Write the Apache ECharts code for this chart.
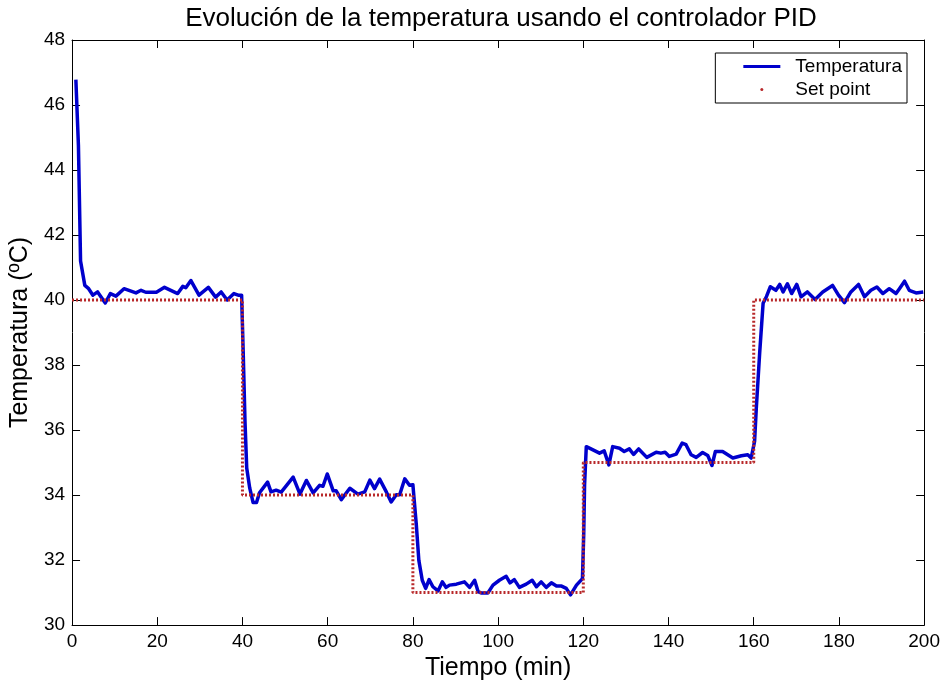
<!DOCTYPE html>
<html>
<head>
<meta charset="utf-8">
<title>Evolución de la temperatura usando el controlador PID</title>
<script src="https://cdn.jsdelivr.net/npm/echarts@6/dist/echarts.min.js"></script>
<style>
  html, body { margin: 0; padding: 0; background: #fff; }
  #chart { width: 943px; height: 686px; }
</style>
</head>
<body>
<div id="chart"></div>
<script>
var timeMin = [
  0.9, 1.5, 2.0, 3.0, 3.9, 4.9, 6.0, 7.8, 9.0, 10.3, 12.2, 15.0, 16.2, 17.3, 19.8,
  21.7, 23.3, 24.8, 26.0, 26.7, 27.9, 29.8, 32.0, 33.7, 35.0, 36.4, 38.0, 39.0, 39.8,
  40.2, 40.6, 41.0, 41.7, 42.5, 43.3, 44.0, 45.9, 46.7, 47.9, 49.1, 51.9, 53.5, 55.0,
  56.6, 58.1, 58.9, 59.9, 61.3, 62.0, 63.2, 65.2, 67.1, 68.7, 69.9, 71.0, 72.2, 73.8,
  74.9, 76.1, 76.9, 78.1, 79.2, 80.0, 80.8, 81.4, 82.2, 83.0, 83.8, 84.7, 85.9, 86.9,
  87.8, 88.6, 90.2, 92.1, 93.3, 94.5, 95.3, 96.0, 97.6, 98.8, 100.3, 101.9, 102.8,
  103.8, 105.0, 106.6, 108.0, 109.0, 110.1, 111.3, 112.5, 113.7, 114.9, 116.0, 117.0,
  118.4, 119.8, 120.1, 120.3, 120.7, 121.8, 123.8, 124.9, 126.0, 126.9, 128.5, 129.6,
  130.8, 131.8, 133.0, 134.9, 137.1, 138.2, 139.2, 140.2, 141.8, 143.2, 144.1, 145.3,
  146.5, 148.0, 149.2, 150.2, 151.0, 152.7, 155.1, 157.1, 158.6, 159.4, 160.2, 160.6,
  161.4, 162.2, 163.0, 163.9, 165.2, 166.1, 166.9, 167.9, 168.9, 170.1, 171.1, 172.6,
  174.4, 176.2, 178.5, 179.9, 181.3, 182.8, 184.6, 186.0, 187.5, 188.9, 190.3, 191.8,
  193.4, 194.2, 195.4, 196.5, 198.1, 199.8
];
var temperatura = [
  46.78, 44.76, 41.2, 40.45, 40.35, 40.15, 40.25, 39.91, 40.2, 40.12, 40.35, 40.22, 40.3, 40.24, 40.24,
  40.39, 40.29, 40.2, 40.42, 40.38, 40.6, 40.15, 40.39, 40.09, 40.25, 40.0, 40.2, 40.15, 40.15,
  38.27, 36.25, 34.83, 34.22, 33.77, 33.77, 34.07, 34.4, 34.1, 34.15, 34.09, 34.55, 34.03, 34.45,
  34.07, 34.3, 34.27, 34.65, 34.13, 34.13, 33.86, 34.21, 34.03, 34.1, 34.46, 34.2, 34.49, 34.09,
  33.79, 34.01, 34.01, 34.5, 34.3, 34.32, 33.1, 31.99, 31.38, 31.13, 31.4, 31.18, 31.05, 31.33,
  31.16, 31.23, 31.26, 31.33, 31.16, 31.38, 31.03, 30.99, 30.99, 31.23, 31.38, 31.5, 31.3,
  31.4, 31.16, 31.26, 31.38, 31.18, 31.33, 31.16, 31.3, 31.2, 31.2, 31.13, 30.93,
  31.23, 31.43, 32.8, 34.32, 35.49, 35.42, 35.29, 35.36, 34.93, 35.49, 35.44, 35.34,
  35.42, 35.25, 35.42, 35.16, 35.32, 35.29, 35.32, 35.19, 35.26, 35.6, 35.55, 35.24,
  35.16, 35.31, 35.22, 34.91, 35.34, 35.34, 35.14, 35.21, 35.24, 35.14, 35.65, 36.66,
  38.38, 39.9, 40.11, 40.41, 40.3, 40.48, 40.25, 40.5, 40.2, 40.48, 40.1, 40.25,
  40.02, 40.25, 40.45, 40.15, 39.92, 40.25, 40.48, 40.1, 40.3, 40.4, 40.2, 40.35,
  40.2, 40.35, 40.58, 40.3, 40.22, 40.25
];

// consigna (set point): escalones
var setTime = [0, 40, 40, 80, 80, 120, 120, 160, 160, 200];
var setLevel = [40, 40, 34, 34, 31, 31, 35, 35, 40, 40];

var xTicks = [0, 20, 40, 60, 80, 100, 120, 140, 160, 180, 200];
var yTicks = [30, 32, 34, 36, 38, 40, 42, 44, 46, 48];

var font = "'Liberation Sans', Arial, Helvetica, sans-serif";

function pairs(xs, ys) {
  var out = [];
  for (var i = 0; i < xs.length; i++) out.push([xs[i], ys[i]]);
  return out;
}

var chart = echarts.init(document.getElementById('chart'), null, { renderer: 'canvas' });

var baseX = {
  type: 'value',
  min: xTicks[0],
  max: xTicks[xTicks.length - 1],
  interval: xTicks[1] - xTicks[0],
  axisLine: { show: true, onZero: false, lineStyle: { color: '#000', width: 1 } },
  axisTick: { show: true, inside: true, length: 8, lineStyle: { color: '#000' } },
  splitLine: { show: false }
};
var baseY = {
  type: 'value',
  min: yTicks[0],
  max: yTicks[yTicks.length - 1],
  interval: yTicks[1] - yTicks[0],
  axisLine: { show: true, onZero: false, lineStyle: { color: '#000', width: 1 } },
  axisTick: { show: true, inside: true, length: 8, lineStyle: { color: '#000' } },
  splitLine: { show: false }
};

var option = {
  backgroundColor: '#fff',
  animation: false,
  title: {
    text: 'Evolución de la temperatura usando el controlador PID',
    left: 496,
    textAlign: 'center',
    top: 1,
    textStyle: { fontFamily: font, fontSize: 26, fontWeight: 'normal', color: '#000' }
  },
  grid: { left: 72, right: 18, top: 40, bottom: 54 },
  legend: {
    orient: 'vertical',
    right: 36,
    top: 53,
    padding: [4, 5, 4, 28],
    itemGap: 4,
    itemWidth: 37,
    itemHeight: 3,
    borderColor: '#000',
    borderWidth: 1,
    borderRadius: 0,
    backgroundColor: '#fff',
    textStyle: { fontFamily: font, fontSize: 19, color: '#000', padding: [0, 0, 0, 10] },
    data: [
      { name: 'Temperatura', icon: 'rect' },
      { name: 'Set point', icon: 'circle' }
    ]
  },
  xAxis: [
    Object.assign({}, baseX, {
      position: 'bottom',
      name: 'Tiempo (min)',
      nameLocation: 'middle',
      nameGap: 26,
      nameTextStyle: { fontFamily: font, fontSize: 25, color: '#000' },
      axisLabel: { fontFamily: font, fontSize: 19, color: '#000', margin: 7 }
    }),
    Object.assign({}, baseX, { position: 'top', axisLabel: { show: false } })
  ],
  yAxis: [
    Object.assign({}, baseY, {
      position: 'left',
      name: 'Temperatura (ºC)',
      nameLocation: 'middle',
      nameGap: 38,
      nameTextStyle: { fontFamily: font, fontSize: 25, color: '#000' },
      axisLabel: { fontFamily: font, fontSize: 19, color: '#000', margin: 7 }
    }),
    Object.assign({}, baseY, { position: 'right', axisLabel: { show: false } })
  ],
  series: [
    {
      name: 'Temperatura',
      type: 'line',
      xAxisIndex: 0,
      yAxisIndex: 0,
      data: pairs(timeMin, temperatura),
      showSymbol: false,
      symbol: 'none',
      color: '#0000cc',
      lineStyle: { color: '#0000cc', width: 3.5, join: 'round' },
      z: 2
    },
    {
      name: 'Set point',
      type: 'line',
      xAxisIndex: 0,
      yAxisIndex: 0,
      data: pairs(setTime, setLevel),
      showSymbol: false,
      symbol: 'none',
      color: '#b8282a',
      lineStyle: { color: '#b8282a', width: 3, type: [2, 2] },
      z: 3
    }
  ]
};

chart.setOption(option);
</script>
</body>
</html>
